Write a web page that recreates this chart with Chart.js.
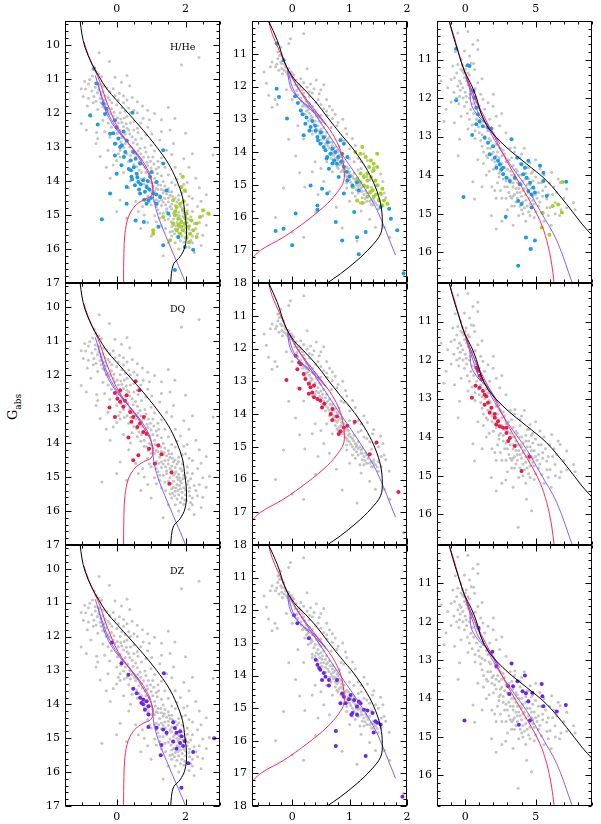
<!DOCTYPE html>
<html>
<head>
<meta charset="utf-8">
<script src="https://cdn.jsdelivr.net/npm/chart.js@4.4.1/dist/chart.umd.min.js"></script>
<style>
  body { margin:0; background:#fff; width:601px; height:824px; position:relative; overflow:hidden; font-family:'DejaVu Serif', serif; }
  .panel { position:absolute; }
  #ylab { position:absolute; left:14px; top:407px; transform:translate(-50%,-50%) rotate(-90deg); font-size:13px; white-space:nowrap; }
  #ylab sub { font-size:9px; }
</style>
</head>
<body>
<div id="ylab">G<sub>abs</sub></div>
<script>
// ===== DATA =====
// axis ranges and tick labels, one entry per column
const xMin = [-1.5, -0.7, -2];
const xMax = [3, 2.0, 9];
const yMin = [9.3, 10, 10];
const yMax = [17, 18, 16.8];
const xTickLabels = [[0, 2], [0, 1, 2], [0, 5]];
const yTickLabels = [[10, 11, 12, 13, 14, 15, 16, 17], [11, 12, 13, 14, 15, 16, 17, 18], [11, 12, 13, 14, 15, 16]];
const xMinorStep = [0.5, 0.2, 1];
const yMinorStep = [0.2, 0.2, 0.2];
const rowNames = ['H/He', 'DQ', 'DZ'];

// model tracks (same in every row of a column)
const blackTrack1 = [[-1.06,9.3],[-1.01,9.68],[-0.92,10.07],[-0.72,10.56],[-0.53,10.9],[-0.29,11.29],[0,11.63],[0.39,12.07],[0.77,12.51],[1.16,13.0],[1.5,13.49],[1.74,13.98],[1.91,14.47],[1.98,14.96],[2.03,15.5],[1.98,15.94],[1.84,16.23],[1.66,16.43],[1.59,16.72],[1.57,17.0]];
const redTrack1 = [[-0.95,9.92],[-0.82,10.31],[-0.63,10.75],[-0.48,11.1],[-0.34,11.54],[-0.19,11.93],[-0.05,12.27],[0.14,12.61],[0.39,12.96],[0.63,13.3],[0.87,13.69],[1.01,13.98],[1.06,14.25],[0.99,14.45],[0.77,14.56],[0.53,14.74],[0.34,15.06],[0.24,15.55],[0.21,16.13],[0.2,17.0]];
const blueTrack1 = [[-0.62,10.9],[-0.5,11.3],[-0.39,11.63],[-0.24,12.03],[-0.05,12.37],[0.19,12.71],[0.48,13.05],[0.77,13.44],[0.97,13.83],[1.04,14.18],[1.08,14.57],[1.21,15.06],[1.4,15.55],[1.64,16.13],[1.93,16.82],[2.0,17.0]];
const violetTrack1 = [[-0.55,11.1],[-0.44,11.55],[-0.32,11.95],[-0.14,12.3],[0.08,12.6],[0.38,12.95],[0.7,13.35]];
const blackTrack2 = [[-0.41,10.0],[-0.26,10.59],[-0.12,11.31],[0.03,11.76],[0.2,12.07],[0.41,12.47],[0.61,12.93],[0.84,13.44],[1.08,13.95],[1.31,14.56],[1.45,15.07],[1.54,15.58],[1.57,16.09],[1.54,16.5],[1.37,16.9],[1.13,17.31],[0.84,17.72],[0.61,18.0]];
const redTrack2 = [[-0.41,10.0],[-0.35,10.39],[-0.2,11.0],[-0.08,11.46],[0.06,11.92],[0.26,12.42],[0.49,12.93],[0.7,13.44],[0.84,13.95],[0.9,14.46],[0.9,14.87],[0.81,15.17],[0.61,15.58],[0.26,16.09],[-0.15,16.6],[-0.55,17.0],[-0.75,17.35]];
const blueTrack2 = [[-0.08,11.46],[0.09,12.02],[0.32,12.63],[0.55,13.24],[0.78,13.85],[1.02,14.46],[1.25,15.07],[1.48,15.78],[1.8,17.15]];
const violetTrack2a = [[-0.08,11.5],[-0.06,11.81],[0.0,12.12],[0.15,12.42],[0.38,12.73],[0.58,13.14]];
const violetTrack2b = [[-0.07,11.5],[-0.02,11.9],[0.07,12.25],[0.22,12.55],[0.42,12.85],[0.6,13.2]];
const blackTrack3 = [[-1.12,10.02],[-0.88,10.35],[-0.52,10.78],[-0.05,11.3],[0.43,11.65],[0.79,11.98],[1.14,12.41],[1.62,12.76],[2.21,13.02],[3.17,13.36],[4.36,13.71],[5.79,14.15],[7.21,14.76],[8.29,15.27],[9.05,15.58]];
const redTrack3 = [[-1.12,10.02],[-0.76,10.44],[-0.29,11.04],[0.19,11.56],[0.79,12.07],[1.5,12.59],[2.21,13.1],[2.93,13.62],[3.88,14.23],[4.71,14.75],[5.31,15.18],[5.79,15.7],[6.14,16.31],[6.31,16.8]];
const blueTrack3 = [[-0.05,11.3],[0.67,11.99],[1.38,12.59],[2.1,13.1],[3.17,13.71],[4.36,14.32],[5.31,14.92],[6.5,15.7],[7.6,16.8]];
const violetTrack3a = [[-0.05,11.3],[0.31,11.73],[0.43,12.16],[0.9,12.46],[1.74,12.76],[2.45,13.19]];
const violetTrack3b = [[0.05,11.45],[0.55,12.0],[0.95,12.4],[1.6,12.7],[2.3,13.1]];

// full sample (grey), same in every row of a column
const greyCol1 = [[-0.51,10.23],[-0.21,10.49],[1.88,10.59],[2.39,10.37],[-0.65,10.66],[-0.6,10.78],[-0.52,10.86],[-0.44,10.93],[-0.7,10.92],
  [-1.03,11.29],[-0.93,11.08],[-0.78,11.02],[-0.62,11.12],[-0.5,11.17],[-0.38,11.22],[-0.28,11.27],[-0.72,11.36],[-0.56,11.41],[-0.46,11.46],[-0.34,11.5],[-0.66,11.52],[-0.82,11.57],[-0.97,11.52],[0.14,11.1],[-0.1,11.29],[0.08,11.42],[0.38,11.2],[-0.2,11.38],[-0.6,11.66],[-0.45,11.7],
  [-0.2,11.62],[-0.3,11.74],[0.0,11.76],[0.2,11.7],[0.35,11.86],[0.6,11.67],[0.5,11.92],[0.77,12.16],[0.9,11.92],[1.1,12.02],[0.7,12.3],[0.3,12.1],[0.1,12.0],[-0.1,12.1],[-0.3,12.0],[-0.4,12.22],[-1.03,12.31],[-0.58,12.58],[-0.55,12.75],[1.5,11.84],[1.69,12.16],[0.9,12.42],[1.02,12.62],[0.5,12.5],[0.2,12.4],[-0.15,12.42],[0.05,12.3],[0.4,12.3],[0.62,12.58],[0.25,12.62],
  [-0.2,12.72],[0.0,12.9],[0.2,13.02],[0.32,12.82],[0.45,13.12],[0.6,12.92],[0.7,13.2],[0.82,13.02],[0.92,13.3],[1.1,13.12],[1.2,13.42],[-0.48,13.28],[-0.1,13.53],[0.1,13.3],[0.35,13.42],[0.5,13.52],[0.75,13.52],[1.0,13.62],[1.3,13.32],[2.8,13.24],[1.6,13.22],[0.1,13.1],[0.55,13.3],[0.85,13.75],[0.65,13.68],[0.3,13.2],
  [-0.19,13.92],[0.6,13.82],[0.8,13.92],[0.95,14.02],[1.1,13.92],[1.2,14.12],[1.35,14.02],[1.5,14.22],[1.0,14.3],[1.25,14.42],[1.4,14.52],[1.6,14.32],[1.7,14.12],[1.8,14.42],[2.0,14.32],[2.2,14.52],[0.1,14.56],[1.5,13.82],[2.3,13.92],[1.05,14.15],[1.3,14.25],[1.45,14.38],[1.15,14.55],[0.9,14.45],[1.65,14.55],[1.9,14.62],
  [1.3,14.72],[1.5,14.62],[1.6,14.82],[1.7,14.72],[1.8,14.92],[1.9,14.82],[2.0,15.02],[1.55,15.02],[1.65,15.12],[1.75,15.22],[1.85,15.12],[1.95,15.32],[2.05,15.22],[1.7,15.42],[1.8,15.52],[1.9,15.62],[2.0,15.52],[2.1,15.42],[2.2,15.62],[1.6,15.62],[-0.43,15.15],[0.29,15.1],[0.63,14.9],[2.69,14.98],[2.03,15.7],[2.2,15.82],[1.3,15.32],[1.1,15.02],[0.9,15.22],[2.4,15.22],[2.5,15.02],[1.5,15.82],[1.0,15.62],[1.45,14.9],[1.75,15.0],[2.15,15.05],[1.4,15.15],[1.85,15.35],[2.3,15.4],[1.65,15.3],[1.95,15.8],[1.8,16.0],[2.1,15.95],
  [-0.35,11.85],[-0.25,11.95],[-0.15,11.88],[0.05,11.62],[0.25,11.95],[-0.05,12.2],[0.12,12.18],[0.3,12.45],[0.45,12.7],[0.15,12.72],[0.38,12.62],[0.55,12.78],[0.05,13.2],[0.22,13.25],[0.4,13.25],[0.62,13.12],[0.78,13.3],[0.88,13.45],[0.65,13.45],[0.45,13.7],[0.72,13.75],[0.95,13.8],[1.05,13.75],[1.15,13.65],[0.8,14.1],[0.92,14.22],[1.1,14.3],[1.2,14.25],[1.35,14.35],[1.55,14.42],[1.3,14.55],[1.5,14.5],[1.42,14.7],[1.6,14.68],[1.75,14.62],[1.85,14.75],[1.68,14.9],[1.78,15.08],[1.92,15.05],[1.58,15.2],[1.72,15.32],[1.82,15.25],[2.0,15.38],[1.9,15.45],[1.62,15.48],[2.12,15.55],[1.98,15.68],[1.75,15.65],[1.85,15.75],[1.2,14.85],[1.35,14.95],[1.25,15.1],[1.0,14.7],[1.15,14.75],[2.25,15.25],[2.35,15.55],[2.2,14.9],[2.05,14.7],[2.45,14.6],[2.6,15.3],[1.95,14.1],[1.85,13.8],[2.1,13.6],[1.7,13.6],[1.4,13.6],[1.45,13.1],[1.25,12.8],[1.55,12.5],[1.3,12.2],[2.0,12.6],[0.95,12.2],[0.6,12.0],[0.75,11.8],[0.45,11.55],[0.2,11.5],[-0.05,10.95],[0.3,10.9],[2.2,13.2],[2.4,14.2],[2.6,14.4],[0.35,14.2],[0.55,14.6],[-0.3,13.6],[-0.6,12.9],[-0.75,12.1],[-0.85,11.8],[0.0,14.9],[0.7,15.4],[2.45,15.9],[2.25,16.1],[1.35,16.2],
  [-0.62,11.25],[-0.52,11.32],[-0.4,11.38],[-0.48,11.58],[-0.36,11.62],[-0.25,11.55],[-0.14,11.7],[-0.4,11.82],[-0.2,12.02],[-0.08,11.98],[0.02,12.15],[0.15,12.28],[-0.25,12.3],[0.28,12.32],[0.1,12.52],[0.35,12.5],[0.02,12.6],[0.48,12.88],[0.25,12.9],[0.38,13.0],[0.52,13.2],[0.12,12.85],[0.68,13.05],[0.58,13.58],[0.72,13.38],[0.82,13.6],[0.9,13.55],[0.98,13.42],[1.08,13.5],[1.18,13.78],[0.7,13.95],[0.88,14.12],[1.0,14.05],[1.12,14.05],[1.28,14.12],[1.4,14.15],[1.15,14.22],[1.38,14.28],[1.52,14.32],[1.62,14.45],[1.7,14.5],[1.22,14.6],[1.35,14.62],[1.55,14.75],[1.45,14.82],[1.65,14.95],[1.72,14.85],[1.82,15.02],[1.5,15.12],[1.6,15.35],[1.68,15.55],[1.78,15.4],[2.08,15.12],[2.12,15.32],[1.88,15.18],[1.95,14.95],[2.05,14.88],[1.8,14.55],[1.9,14.35],[2.1,14.45],[1.6,14.05],[1.75,13.95],[1.3,13.85],[1.22,13.6],[1.05,13.3],[0.85,13.15],[1.0,12.95],[0.72,12.75],[0.85,12.65],[0.6,12.45],[0.5,12.25],[0.22,12.15],[0.4,12.0],[0.15,11.85],[-0.05,11.5],[0.3,11.62],[1.3,12.55],[1.65,12.9],[1.95,13.35],[2.05,14.05],[2.35,14.75],[2.5,15.6],[2.15,15.75],[1.7,15.82],[1.55,15.5],[1.42,15.4],[1.15,15.2],[0.8,15.0],[1.25,14.95],[1.1,14.6],[0.95,14.62],[-0.9,11.3],[-0.82,11.15],[-0.68,11.7],[-0.55,11.9],[-0.88,12.5],[-0.35,12.55],[-0.25,13.1],[0.0,13.4],[0.2,13.75],[0.4,14.0],[0.75,14.75]];
const greyCol2 = [[-0.06,10.69],[0.2,10.39],[-0.03,10.54],[-0.2,10.8],[-0.25,10.95],
  [-0.35,11.25],[-0.49,11.56],[-0.29,11.4],[-0.23,11.5],[-0.17,11.61],[-0.2,11.25],[-0.15,11.15],[-0.12,11.4],[0.15,11.76],[0.26,11.46],[0.32,11.92],[0.38,12.07],[0.47,12.22],[0.26,12.02],[-0.41,12.27],[-0.35,12.63],[-0.26,12.55],[-0.1,11.55],[-0.05,11.7],[0.05,11.85],[-0.27,11.32],[-0.18,11.45],[0.0,11.6],[0.1,11.95],[0.2,11.88],
  [0.41,12.48],[0.55,12.68],[0.61,12.88],[0.7,12.98],[0.5,12.88],[0.12,12.05],[0.2,12.2],[0.15,12.35],[0.25,12.45],[0.3,12.3],[0.35,12.6],[0.28,12.7],[0.4,12.78],[0.22,12.85],[0.45,12.95],[0.32,13.0],[0.38,13.15],[0.5,13.1],[0.42,13.3],[0.55,13.25],[0.48,13.45],[0.6,13.4],[0.35,13.35],[0.65,13.55],[0.55,13.6],
  [0.7,13.7],[0.62,13.8],[0.75,13.85],[0.68,13.95],[0.8,14.0],[0.72,14.1],[0.85,14.15],[0.78,14.25],[0.9,14.3],[0.82,14.4],[0.95,14.45],[0.88,14.55],[1.0,14.6],[0.92,14.7],[1.05,14.75],[1.0,14.85],[1.1,14.9],[1.05,15.0],[1.15,15.05],[1.12,15.15],[1.2,15.2],[1.25,15.3],[1.32,15.35],[1.38,15.45],[1.3,15.5],[1.45,15.55],[1.4,15.62],
  [0.93,13.28],[1.25,14.05],[1.05,13.59],[1.31,14.26],[1.42,14.47],[1.54,14.67],[0.85,13.6],[1.0,13.9],[1.15,14.2],[1.2,14.5],[1.3,14.75],[1.45,14.9],[1.6,15.25],[1.63,15.4],[1.69,15.74],[1.5,15.75],
  [-0.06,13.61],[0.06,14.12],[0.13,14.63],[0.22,15.07],[0.77,15.69],[0.41,15.85],[-0.29,16.0],[0,16.44],[0.87,16.32],[1.13,16.72],[1.94,17.62],[0.6,14.3],[0.7,14.6],[0.55,14.9],[1.6,16.3],[1.35,16.05],
  [0.58,13.75],[0.8,14.5],[0.95,14.95],[1.1,15.35],[1.22,15.05],[0.75,14.35],[0.65,14.05],[0.52,13.72],[0.44,13.55],
  [-0.14,11.5],[-0.1,11.42],[-0.08,11.62],[0.0,11.72],[0.05,11.95],[0.08,12.12],[0.18,12.1],[0.22,12.32],[0.3,12.52],[0.18,12.6],[0.25,12.75],[0.33,12.9],[0.28,13.05],[0.4,13.05],[0.45,13.2],[0.35,13.45],[0.5,13.3],[0.52,13.5],[0.62,13.6],[0.58,13.9],[0.7,13.8],[0.75,14.05],[0.68,14.2],[0.82,14.1],[0.85,14.35],[0.78,14.45],[0.9,14.6],[0.98,14.5],[0.95,14.75],[1.08,14.65],[1.02,14.92],[1.15,14.85],[1.12,15.0],[1.2,15.1],[1.28,15.18],[1.22,15.4],[1.35,15.25],[1.42,15.4],[1.5,15.45],[1.55,15.6],[1.18,15.55],[1.05,15.25],[0.95,15.1],[0.65,12.6],[0.75,12.85],[0.8,13.1],[0.6,12.4],[0.5,12.1],[0.42,11.8],[0.55,11.95],[-0.3,12.4],[-0.45,11.9],[-0.38,11.4],[0.88,13.0],[0.95,13.45],[1.1,13.8],[1.2,14.3],[1.4,14.6],[1.5,15.0],[1.58,14.9],[0.35,14.6],[0.45,15.3],[-0.15,15.1],[1.45,16.3],[0.2,16.6],
  [-0.22,11.05],[-0.25,11.15],[-0.18,11.3],[-0.13,11.32],[-0.06,11.45],[-0.02,11.55],[0.03,11.65],[0.07,11.8],[0.12,11.92],[0.15,12.0],[0.1,12.25],[0.16,12.45],[0.2,12.55],[0.27,12.62],[0.24,12.6],[0.3,12.82],[0.36,12.75],[0.35,12.95],[0.42,12.9],[0.47,13.05],[0.4,13.4],[0.46,13.35],[0.53,13.4],[0.58,13.5],[0.5,13.62],[0.6,13.65],[0.66,13.7],[0.64,13.88],[0.72,13.9],[0.78,13.95],[0.7,14.02],[0.8,14.2],[0.86,14.25],[0.75,14.2],[0.88,14.4],[0.92,14.5],[0.85,14.6],[0.98,14.65],[1.02,14.7],[0.97,14.82],[1.07,14.82],[1.12,14.95],[1.08,15.08],[1.18,15.0],[1.22,15.2],[1.15,15.25],[1.3,15.25],[1.27,15.42],[1.35,15.5],[1.42,15.48],[1.48,15.62],[1.25,15.55],[1.38,15.6],[0.5,12.55],[0.6,12.75],[0.7,12.72],[0.78,13.2],[0.68,13.25],[0.9,13.65],[0.82,13.82],[1.0,14.2],[1.08,14.3],[1.15,14.55],[1.25,14.7],[1.35,14.85],[1.38,15.08],[1.55,15.3],[0.3,12.15],[0.45,12.4],[0.35,12.2],[0.0,12.4],[-0.1,12.1],[0.1,13.2],[0.2,13.6],[0.4,14.3],[0.5,14.5],[0.65,15.2],[1.0,15.5],[1.2,15.8],[1.7,16.6]];
const greyCol3 = [[0.19,10.27],[-0.52,10.31],[0.55,10.61],[0.9,10.74],[-0.05,10.78],[0.31,10.91],[-0.29,11.0],[-0.88,11.17],[-0.52,11.13],[0.07,11.17],[0.43,11.09],[0.67,11.26],[-1.0,11.52],[-0.76,11.47],[-0.4,11.56],[-0.05,11.47],[-1.24,11.73],[-0.52,11.69],[-0.17,11.73],[0.2,11.65],[-1.71,11.56],[-0.4,11.95],[0.07,11.95],[-1.36,12.29],[-0.76,12.64],[-0.29,12.47],[-0.05,12.21],[1.26,12.03],[1.62,12.12],[1.98,12.21],[1.38,12.29],[2.21,12.47],[2.45,12.72],[1.74,12.55],[-0.4,13.07],[0.3,11.4],[-0.2,11.3],[0.5,11.8],[0.9,11.6],[1.1,11.9],[0.4,12.3],[0.8,12.55],[0.2,12.8],[-0.6,12.0],
  [1.0,12.9],[1.4,13.0],[1.8,13.1],[2.2,13.2],[1.6,13.3],[2.5,13.3],[1.2,13.25],[2.0,13.4],[2.8,13.45],[2.4,13.55],[1.9,13.6],[3.1,13.6],[2.6,13.7],[3.4,13.75],[2.2,13.75],[3.0,13.85],[3.7,13.9],[2.7,13.95],[3.3,14.0],[4.0,14.0],[3.6,14.1],[4.3,14.1],[2.9,14.15],[3.9,14.2],[4.6,14.25],[3.4,14.3],[4.2,14.35],[4.9,14.35],[3.7,14.45],[4.5,14.45],[4.0,14.55],[4.8,14.55],[3.3,14.6],[4.3,14.65],[5.1,14.6],[4.6,14.75],[3.9,14.8],[5.4,14.2],[5.0,14.05],[4.7,13.95],[3.2,13.3],[3.9,13.55],[4.4,13.8],[2.4,14.05],[3.5,14.5],
  [0.55,14.17],[0.67,14.62],[1.86,15.05],[2.88,15.11],[4.36,15.61],[4.71,15.91],[3.76,16.34],[3.52,13.28],[4.6,13.67],[5.31,13.84],[6.14,13.93],[6.74,14.19],[7.21,14.36],[7.69,14.71],[6.5,14.45],[5.79,14.62],[5.43,14.97],[6.02,14.84],[6.38,14.71],[5.7,14.3],[6.2,14.5],[5.2,14.8],[4.1,15.0],[6.8,14.9],[2.1,14.4],[3.0,14.9],
  [-0.3,11.25],[-0.1,11.35],[0.1,11.55],[-0.35,11.8],[-0.8,11.85],[-0.15,12.0],[0.3,12.0],[0.5,12.15],[-1.0,12.1],[0.15,12.4],[0.6,12.4],[1.0,12.2],[0.5,12.7],[0.95,12.75],[1.3,12.6],[1.6,12.85],[0.7,13.05],[1.1,13.1],[1.5,13.5],[1.8,13.3],[2.2,13.5],[2.6,13.5],[2.0,13.85],[2.5,13.9],[2.9,13.65],[3.2,14.2],[3.6,13.85],[3.4,14.55],[3.8,14.35],[4.1,14.4],[4.4,14.25],[4.7,14.5],[4.2,14.85],[3.6,14.7],[4.5,14.95],[4.9,14.75],[5.2,14.45],[5.5,14.55],[5.8,14.85],[4.8,14.15],[4.3,13.95],[3.9,13.7],[3.5,14.0],[2.8,14.3],[2.3,14.2],[1.7,13.9],[1.3,13.7],[2.6,14.6],[3.1,14.45],[4.0,14.25],[4.55,14.6],[3.7,14.2],[4.9,15.1],[5.6,15.2],[6.4,15.0],[7.0,14.6],[6.0,14.2],[5.0,13.6],[4.2,13.3],[2.9,12.9],[2.6,12.4],[2.0,11.9],[1.2,11.5],[0.6,11.1],[0.9,10.5],[-0.7,10.8],[-1.5,12.6],[-0.5,13.5],[1.2,14.3],[2.2,15.4],[3.4,15.3],[6.1,15.3],
  [-0.2,11.15],[0.0,11.25],[0.2,11.35],[-0.6,11.35],[-0.3,11.62],[0.0,11.85],[0.35,11.9],[0.7,11.75],[-0.45,12.15],[0.1,12.1],[0.8,12.1],[0.3,12.55],[0.7,12.85],[1.1,12.65],[1.5,12.75],[1.2,12.95],[1.7,13.05],[1.3,13.4],[1.6,13.55],[1.9,13.45],[2.3,13.4],[2.7,13.35],[2.1,13.65],[2.5,13.75],[2.8,13.8],[3.3,13.55],[3.2,13.9],[2.4,13.95],[2.7,14.1],[3.1,14.1],[3.4,14.2],[3.8,14.0],[4.1,14.15],[4.5,14.1],[3.0,14.3],[3.6,14.35],[3.9,14.45],[4.3,14.5],[4.7,14.35],[5.0,14.5],[3.2,14.55],[3.7,14.6],[4.1,14.7],[4.4,14.8],[4.8,14.65],[5.3,14.7],[3.5,14.8],[4.0,14.9],[4.6,15.05],[5.0,14.95],[2.5,14.4],[2.2,14.6],[2.9,14.6],[3.3,14.8],[3.8,15.05],[4.3,15.2],[5.5,14.4],[5.9,14.5],[6.3,14.3],[5.2,14.2],[4.5,13.8],[4.0,13.45],[3.5,13.4],[4.8,13.9],[5.6,14.0],[6.6,14.1],[7.2,14.85],[6.7,15.05],[7.8,14.9],[5.9,15.05],[2.6,15.2],[1.5,14.0],[0.9,13.6],[1.9,14.3]];

// H/He row
const hhBlue1 = [[-0.66,10.7],[-0.58,11.14],[-0.29,11.88],[-0.77,12.07],[-0.55,12.34],[-0.05,12.22],[0.46,12.0],[-0.19,12.61],[-0.05,12.91],[0.1,13.0],[0.29,12.81],[-0.05,13.25],[0.21,13.3],[0.41,13.4],[0.48,13.15],[0.68,13.49],[0.41,13.69],[0.58,13.79],[0.77,13.98],[0.97,13.88],[0.87,14.18],[1.16,14.03],[1.35,13.1],[1.35,13.49],[1.06,14.37],[0.68,14.37],[0.53,14.13],[0.29,14.18],[-0.19,14.37],[0.87,14.67],[1.16,14.67],[1.26,14.47],[1.45,14.28],[-0.43,15.13],[0.55,15.16],[0.79,15.21],[1.21,15.35],[1.35,15.89],[1.79,15.65],[1.98,15.94],[2.22,16.02],[1.5,14.96],[0.82,14.32],[1.01,13.74],[0.14,13.54],[0,13.79],[0.43,13.88],[0.63,14.03],[0.92,14.57],[0.29,14.67],[0,12.42],[-0.34,12.03],[-0.39,11.73],[1.69,16.62],
  [0.5,13.6],[0.6,13.9],[0.7,14.1],[0.9,14.0],[0.55,13.35],[0.25,13.15],[0.15,12.95],[0.65,14.25],[0.8,14.55],[1.0,14.5],[0.45,13.95],[0.35,13.65],[0.95,14.25],[1.15,14.4],[0.2,12.55],[-0.1,12.6],[0.05,12.75]];
const hhGreen1 = [[1.88,14.18],[1.98,14.28],[1.92,13.88],[1.64,14.57],[1.74,14.77],[1.84,14.67],[1.93,14.86],[2.03,14.96],[1.69,15.01],[1.79,15.11],[1.88,15.21],[1.98,15.25],[2.08,15.35],[1.64,15.25],[1.74,15.45],[1.84,15.55],[1.93,15.45],[2.03,15.65],[2.13,15.55],[2.22,15.45],[2.32,15.25],[2.42,15.06],[2.51,14.86],[2.66,14.96],[1.35,15.06],[1.06,15.45],[1.06,15.55],[1.55,15.74],[2.17,15.16],[2.32,15.65],[1.88,15.35],[1.8,15.3],[1.7,14.9],[2.0,15.1],[1.95,14.6],[2.1,15.8]];
const hhBlue2 = [[-0.27,10.69],[-0.15,11.2],[-0.27,12.07],[-0.23,12.32],[-0.09,12.98],[0.15,12.73],[0.23,13.14],[0.32,13.24],[0.2,13.49],[0.41,13.34],[0.44,13.54],[0.49,13.75],[0.58,13.95],[0.61,14.15],[0.67,14.05],[0.73,14.26],[0.64,14.51],[0.84,13.64],[0.9,13.75],[0.87,14.05],[0.96,14.15],[0.78,14.36],[0.81,14.76],[0.96,14.87],[1.05,15.02],[1.13,14.92],[1.16,15.17],[0.52,15.12],[0.61,15.27],[0.9,15.27],[0.44,15.63],[0.44,15.76],[0.06,15.88],[0.32,15.02],[0.76,16.14],[1.08,15.83],[1.54,15.68],[1.69,15.73],[1.72,16.04],[1.28,16.44],[1.13,16.6],[0.87,16.7],[-0.15,16.34],[-0.29,16.41],[0,16.85],[1.16,17.12],[1.83,16.39],[1.94,17.71],
  [0.18,12.85],[0.25,12.95],[0.35,13.05],[0.4,13.2],[0.5,13.4],[0.55,13.55],[0.62,13.7],[0.7,13.9],[0.75,14.0],[0.8,14.15],[0.85,14.3],[0.9,14.45],[0.95,14.6],[0.7,14.35],[0.6,14.2],[0.55,13.85],[1.0,14.75],[0.45,13.65],[0.3,13.35],[0.1,12.5],[0.05,12.3]];
const hhGreen2 = [[1.22,13.85],[1.1,14.0],[1.19,14.05],[1.28,14.15],[1.48,14.05],[1.37,14.26],[1.42,14.36],[1.34,14.46],[1.48,14.46],[1.19,14.66],[1.31,14.66],[1.25,14.76],[1.37,14.76],[1.45,14.87],[1.31,14.87],[1.19,14.92],[1.13,14.82],[1.48,15.02],[1.57,15.12],[1.54,15.27],[1.4,15.17],[1.31,15.07],[1.25,15.02],[1.42,15.37],[1.51,15.48],[1.6,15.48],[1.66,15.58],[1.57,15.63],[1.13,15.48],[1.22,15.56],[1.05,15.07],[1.42,14.56],[1.31,15.37],[1.36,15.22],[1.46,15.3]];
const hhBlue3 = [[-0.64,10.72],[0.19,11.15],[0.31,11.17],[-0.64,12.06],[0.6,11.82],[0.67,11.99],[0.79,12.25],[0.9,12.42],[1.02,12.6],[0.79,12.68],[1.26,12.73],[1.62,12.77],[1.86,12.79],[0.5,12.96],[1.38,13.03],[1.62,13.16],[1.98,13.25],[1.74,13.46],[2.1,13.55],[2.33,13.63],[2.45,13.72],[2.21,13.81],[2.57,13.85],[2.69,13.98],[2.93,14.07],[3.17,14.15],[3.29,13.07],[3.69,13.55],[4.0,13.72],[4.24,13.81],[4.48,13.63],[4.12,13.98],[4.36,14.07],[4.6,14.2],[4.83,14.32],[4.95,14.45],[4.71,14.5],[4.48,14.41],[3.88,14.24],[3.52,14.07],[3.76,14.67],[4.0,14.75],[4.71,14.84],[5.31,13.76],[5.55,13.94],[5.55,14.15],[7.17,14.17],[5.79,14.54],[2.88,15.08],[-0.12,14.57],[4.31,15.62],[4.64,15.92],[4.95,15.7],[3.76,16.35],[2.69,13.81]];
const hhGreen3 = [[6.9,14.18],[6.21,14.8],[6.86,14.97],[5.5,14.98],[5.43,15.36],[5.98,15.55],[6.6,14.76]];
// DQ row
const dqRed1 = [[0.55,12.19],[0.66,12.45],[-0.05,12.53],[0.1,12.45],[0.02,12.7],[0.24,12.76],[0.19,12.94],[-0.21,12.96],[-0.05,13.24],[0.39,13.09],[0.48,13.24],[0.68,13.43],[0.43,13.38],[0.6,13.53],[0.77,13.68],[0.87,13.73],[0.34,13.84],[0.79,13.24],[0.94,14.17],[1.21,14.07],[1.3,14.33],[0.63,14.36],[0.48,14.51],[1.11,14.61],[1.59,14.87],[1.53,15.2],[0.1,12.79],[0.29,12.6]];
const dqRed2 = [[0.06,12.22],[0.12,12.43],[0.15,12.48],[0.09,12.63],[0.2,12.78],[0.23,12.93],[-0.1,12.96],[0.29,13.08],[0.32,13.18],[0.38,13.13],[0.35,13.34],[0.38,13.49],[0.13,13.23],[0.29,13.38],[0.44,13.54],[0.49,13.59],[0.56,13.69],[0.52,13.8],[0.7,13.85],[0.67,14.0],[0.78,14.08],[0.7,14.18],[0.96,14.36],[0.9,14.41],[0.84,14.53],[0.81,14.61],[1.09,14.24],[1.47,14.87],[1.35,15.23],[1.85,16.38]];
const dqRed3 = [[0.79,12.2],[0.9,12.28],[1.02,12.41],[1.14,12.5],[0.74,12.67],[1.02,12.72],[1.26,12.8],[1.38,12.9],[1.5,12.94],[0.48,12.98],[1.62,13.11],[1.38,13.16],[1.86,13.24],[1.74,13.37],[2.1,13.4],[2.1,13.5],[2.33,13.59],[2.21,13.67],[2.45,13.72],[2.69,13.76],[2.93,13.76],[2.93,13.89],[3.17,14.02],[3.05,14.1],[3.52,14.23],[4.55,14.51],[4.0,14.88]];
// DZ row
const dzViolet1 = [[-0.14,12.18],[0.14,12.79],[0.34,13.13],[1.37,13.08],[0.48,13.54],[0.58,13.67],[0.68,13.81],[0.77,13.86],[0.72,13.96],[0.87,13.91],[0.92,14.06],[0.82,14.16],[0.77,14.0],[0.92,14.3],[0.92,14.67],[1.16,14.69],[1.35,14.74],[1.45,14.84],[1.64,14.53],[1.69,14.7],[1.74,14.84],[1.84,14.8],[1.88,14.94],[1.64,15.1],[1.3,15.2],[1.84,15.14],[1.93,15.23],[1.98,15.09],[1.74,15.31],[1.28,15.5],[2.08,15.74],[2.22,15.41],[1.88,16.46],[2.83,15.0]];
const dzViolet2 = [[0.03,12.15],[0.09,12.4],[0.29,12.86],[0.41,13.52],[0.44,13.67],[0.47,13.77],[0.49,13.82],[0.55,13.92],[0.58,14.04],[0.64,14.14],[0.52,14.14],[0.64,14.31],[0.78,14.14],[0.87,14.55],[0.9,14.65],[1.02,14.6],[0.99,14.73],[1.08,14.75],[1.16,14.8],[1.19,14.85],[0.93,14.85],[0.84,14.85],[1.13,14.95],[1.25,15.05],[1.31,15.07],[1.4,15.15],[1.05,15.15],[1.03,15.2],[1.13,15.2],[1.45,15.4],[1.48,15.45],[1.54,15.5],[1.42,15.75],[0.76,15.7],[0.76,16.16],[1.28,16.47],[1.92,17.72]];
const dzViolet3 = [[0.95,12.16],[1.93,12.78],[2.21,13.15],[3.29,13.09],[3.71,13.55],[4.24,13.4],[3.05,13.68],[3.4,13.68],[4.07,13.81],[4.31,13.86],[4.76,13.85],[5.43,13.62],[5.48,13.94],[3.12,13.88],[5.55,14.2],[7.14,14.17],[6.5,14.34],[4.48,14.07],[4.6,14.57],[3.81,14.68],[-0.05,14.57]];

// ===== STYLE =====
const GREY = '#c3c3c3';
const COL_BLUE = '#1b9be6', COL_GREEN = '#a4d31c', COL_RED = '#ee1749', COL_VIOLET = '#6a24ef';
const LINE_RED = '#ff2a5c', LINE_BLUE = '#7a4cff';
const FONT = { family: 'DejaVu Serif', size: 11 };

const tracks = [
  { black: blackTrack1, red: redTrack1, blue: [blueTrack1, violetTrack1] },
  { black: blackTrack2, red: redTrack2, blue: [blueTrack2, violetTrack2a, violetTrack2b] },
  { black: blackTrack3, red: redTrack3, blue: [blueTrack3, violetTrack3a, violetTrack3b] }
];
const greys = [greyCol1, greyCol2, greyCol3];
const highlights = [
  [[hhBlue1, COL_BLUE], [hhGreen1, COL_GREEN]],
  [[hhBlue2, COL_BLUE], [hhGreen2, COL_GREEN]],
  [[hhBlue3, COL_BLUE], [hhGreen3, COL_GREEN]]
];
const rowSets = [
  c => highlights[c],
  c => [[[dqRed1, dqRed2, dqRed3][c], COL_RED]],
  c => [[[dzViolet1, dzViolet2, dzViolet3][c], COL_VIOLET]]
];

const toXY = arr => arr.map(([x, y]) => ({ x, y }));

// inward ticks on all four sides + frame + panel name
const frameTicks = {
  id: 'frameTicks',
  afterDraw(chart, args, opts) {
    const { ctx, chartArea: a, scales: { x, y } } = chart;
    const L = Math.round(a.left) + 0.5, R = Math.round(a.right) - 0.5;
    const T = Math.round(a.top) + 0.5, B = Math.round(a.bottom) - 0.5;
    ctx.save();
    ctx.strokeStyle = '#000';
    ctx.lineWidth = 1;
    ctx.beginPath();
    const tickX = (v, len) => {
      const px = Math.round(x.getPixelForValue(v)) + 0.5;
      ctx.moveTo(px, T); ctx.lineTo(px, T + len);
      ctx.moveTo(px, B); ctx.lineTo(px, B - len);
    };
    const tickY = (v, len) => {
      const py = Math.round(y.getPixelForValue(v)) + 0.5;
      ctx.moveTo(L, py); ctx.lineTo(L + len, py);
      ctx.moveTo(R, py); ctx.lineTo(R - len, py);
    };
    const minor = (min, max, step, major, fn) => {
      for (let k = Math.ceil(min / step - 1e-9); k * step <= max + 1e-9; k++) {
        const v = k * step;
        if (!major.some(m => Math.abs(m - v) < 1e-6)) fn(v, 3);
      }
    };
    opts.xMajor.forEach(v => tickX(v, 6));
    opts.yMajor.forEach(v => tickY(v, 6));
    minor(x.min, x.max, opts.xStep, opts.xMajor, tickX);
    minor(y.min, y.max, opts.yStep, opts.yMajor, tickY);
    ctx.stroke();
    ctx.strokeRect(L, T, R - L, B - T);
    if (opts.label) {
      ctx.fillStyle = '#000';
      ctx.font = '9.5px "DejaVu Serif"';
      ctx.textBaseline = 'middle';
      ctx.fillText(opts.label, a.left + 105, a.top + 27);
    }
    ctx.restore();
  }
};

const colLeft = [25, 212, 397];
const rowTop = [0, 276, 538];
const rowHeight = [290, 276, 286];
const xAxisHeight = [21, 0, 18];

function makePanel(r, c) {
  const wrap = document.createElement('div');
  wrap.className = 'panel';
  wrap.style.left = colLeft[c] + 'px';
  wrap.style.top = rowTop[r] + 'px';
  const cv = document.createElement('canvas');
  cv.width = 203; cv.height = rowHeight[r];
  cv.style.width = '203px'; cv.style.height = rowHeight[r] + 'px';
  wrap.appendChild(cv);
  document.body.appendChild(wrap);

  const datasets = [];
  const t = tracks[c];
  datasets.push({ data: toXY(t.black), showLine: true, borderColor: '#000', borderWidth: 1, pointRadius: 0, tension: 0.35, order: 0 });
  datasets.push({ data: toXY(t.red), showLine: true, borderColor: LINE_RED, borderWidth: 1, pointRadius: 0, tension: 0.35, order: 0 });
  t.blue.forEach(b => datasets.push({ data: toXY(b), showLine: true, borderColor: LINE_BLUE, borderWidth: 0.9, pointRadius: 0, tension: 0.35, order: 0 }));
  rowSets[r](c).forEach(([pts, col]) => datasets.push({ data: toXY(pts), backgroundColor: col, borderWidth: 0, pointRadius: 2, order: 1 }));
  datasets.push({ data: toXY(greys[c]), backgroundColor: GREY, borderWidth: 0, pointRadius: 1.5, order: 2 });

  new Chart(cv, {
    type: 'scatter',
    data: { datasets },
    options: {
      responsive: false,
      animation: false,
      events: [],
      layout: { padding: { left: 0, right: 8, top: r === 0 ? 0 : 7, bottom: r === 2 ? 0 : 7 } },
      plugins: {
        legend: { display: false },
        tooltip: { enabled: false },
        frameTicks: { xMajor: xTickLabels[c], yMajor: yTickLabels[c], xStep: xMinorStep[c], yStep: yMinorStep[c], label: c === 0 ? rowNames[r] : null }
      },
      scales: {
        x: {
          type: 'linear', min: xMin[c], max: xMax[c],
          position: r === 2 ? 'bottom' : 'top',
          display: r !== 1,
          grid: { display: false, drawTicks: false },
          border: { display: false },
          ticks: { font: FONT, color: '#000', padding: 5, maxRotation: 0 },
          afterBuildTicks: s => { s.ticks = xTickLabels[c].map(v => ({ value: v })); },
          afterFit: s => { s.height = xAxisHeight[r]; s.paddingLeft = 0; s.paddingRight = 0; }
        },
        y: {
          type: 'linear', min: yMin[c], max: yMax[c], reverse: true,
          grid: { display: false, drawTicks: false },
          border: { display: false },
          ticks: { font: FONT, color: '#000', padding: 5 },
          afterBuildTicks: s => { s.ticks = yTickLabels[c].map(v => ({ value: v })); },
          afterFit: s => { s.width = 40; s.paddingTop = 0; s.paddingBottom = 0; }
        }
      }
    },
    plugins: [frameTicks]
  });
}

for (let r = 0; r < 3; r++) for (let c = 0; c < 3; c++) makePanel(r, c);
</script>
</body>
</html>
